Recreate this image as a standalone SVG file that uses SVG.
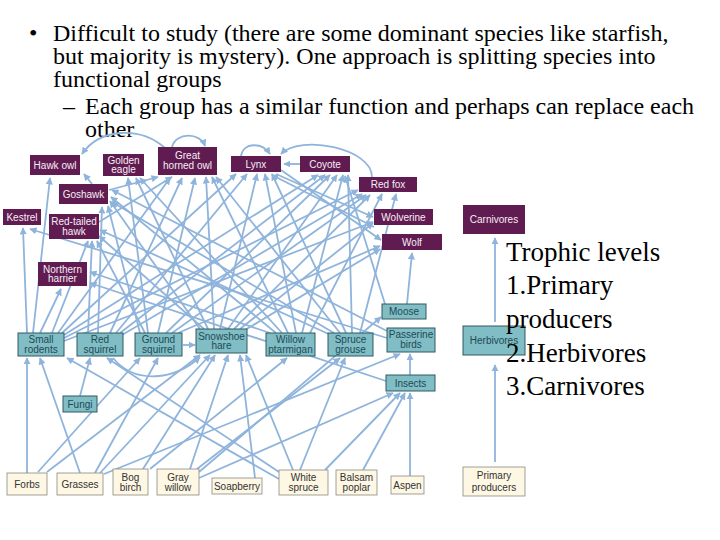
<svg xmlns="http://www.w3.org/2000/svg" width="720" height="540" viewBox="0 0 720 540">
<defs>
<marker id="a" viewBox="0 0 10 10" refX="9" refY="5" markerWidth="4" markerHeight="4" orient="auto"><path d="M0,0 L10,5 L0,10 z" fill="#8fb4dc"/></marker>
<style>
.e{stroke:#8fb4dc;stroke-width:1.8;fill:none;marker-end:url(#a)}
.c{fill:#601b51}
.ct{fill:#f6eef5;font-family:"Liberation Sans",Arial,sans-serif;font-size:10px;text-anchor:middle}
.h{fill:#80bdc4;stroke:#2f5a62;stroke-width:1}
.ht{fill:#1f4a56;font-family:"Liberation Sans",Arial,sans-serif;font-size:10px;text-anchor:middle}
.p{fill:#fdf7e4;stroke:#8a8a80;stroke-width:0.8}
.pt{fill:#333;font-family:"Liberation Sans",Arial,sans-serif;font-size:10px;text-anchor:middle}
.s{font-family:"Liberation Serif","Times New Roman",serif;fill:#000}
</style>
</defs>
<rect width="720" height="540" fill="#fff"/>

<g id="title" class="s" font-size="24">
<text x="29" y="41">•</text>
<text x="53" y="41">Difficult to study (there are some dominant species like starfish,</text>
<text x="53" y="64">but majority is mystery). One approach is splitting species into</text>
<text x="53" y="87">functional groups</text>
<text x="63" y="114">–</text>
<text x="85" y="114">Each group has a similar function and perhaps can replace each</text>
<text x="85" y="137">other</text>
</g>

<g id="connectors">
<!-- curves among carnivores -->
<path class="e" d="M165,148 C140,126 100,128 82,154"/>
<path class="e" d="M172,147 C176,132 200,132 205,146"/>
<path class="e" d="M241,156 C243,142 262,142 270,154"/>
<path class="e" d="M372,177 C372,148 300,134 281,154"/>
<line class="e" x1="300" y1="164" x2="284" y2="164"/>
<line class="e" x1="92" y1="184" x2="84" y2="174"/>
<line class="e" x1="109" y1="190" x2="158" y2="177"/>
<line class="e" x1="99" y1="222" x2="172" y2="177"/>
<line class="e" x1="276" y1="174" x2="373" y2="217"/>
<line class="e" x1="281" y1="170" x2="381" y2="240"/>
<line class="e" x1="374" y1="227" x2="272" y2="175"/>
<!-- small rodents -->
<line class="e" x1="27" y1="333" x2="23" y2="228"/>
<line class="e" x1="33" y1="333" x2="50" y2="178"/>
<line class="e" x1="40" y1="333" x2="61" y2="289"/>
<line class="e" x1="52" y1="333" x2="88" y2="241"/>
<line class="e" x1="58" y1="333" x2="170" y2="178"/>
<line class="e" x1="62" y1="333" x2="236" y2="174"/>
<line class="e" x1="64" y1="335" x2="318" y2="175"/>
<line class="e" x1="64" y1="338" x2="358" y2="190"/>
<line class="e" x1="64" y1="341" x2="373" y2="222"/>
<!-- red squirrel -->
<line class="e" x1="88" y1="333" x2="92" y2="241"/>
<line class="e" x1="98" y1="333" x2="102" y2="207"/>
<line class="e" x1="110" y1="333" x2="182" y2="178"/>
<line class="e" x1="116" y1="333" x2="247" y2="174"/>
<line class="e" x1="120" y1="333" x2="325" y2="175"/>
<line class="e" x1="122" y1="335" x2="362" y2="194"/>
<!-- ground squirrel -->
<line class="e" x1="140" y1="333" x2="108" y2="206"/>
<line class="e" x1="145" y1="333" x2="97" y2="241"/>
<line class="e" x1="148" y1="333" x2="128" y2="178"/>
<line class="e" x1="158" y1="333" x2="195" y2="178"/>
<line class="e" x1="166" y1="333" x2="330" y2="175"/>
<line class="e" x1="172" y1="333" x2="366" y2="195"/>
<line class="e" x1="178" y1="333" x2="380" y2="246"/>
<!-- snowshoe hare -->
<line class="e" x1="200" y1="329" x2="110" y2="201"/>
<line class="e" x1="204" y1="329" x2="99" y2="236"/>
<line class="e" x1="208" y1="329" x2="136" y2="178"/>
<line class="e" x1="214" y1="329" x2="206" y2="177"/>
<line class="e" x1="220" y1="329" x2="257" y2="174"/>
<line class="e" x1="228" y1="329" x2="337" y2="175"/>
<line class="e" x1="234" y1="329" x2="370" y2="195"/>
<line class="e" x1="240" y1="329" x2="373" y2="223"/>
<line class="e" x1="245" y1="330" x2="380" y2="249"/>
<!-- willow ptarmigan -->
<line class="e" x1="270" y1="333" x2="90" y2="272"/>
<line class="e" x1="276" y1="333" x2="111" y2="197"/>
<line class="e" x1="282" y1="333" x2="140" y2="178"/>
<line class="e" x1="288" y1="333" x2="212" y2="177"/>
<line class="e" x1="296" y1="333" x2="265" y2="174"/>
<line class="e" x1="302" y1="333" x2="343" y2="175"/>
<line class="e" x1="310" y1="333" x2="382" y2="194"/>
<!-- spruce grouse -->
<line class="e" x1="333" y1="336" x2="100" y2="230"/>
<line class="e" x1="334" y1="333" x2="112" y2="202"/>
<line class="e" x1="340" y1="333" x2="216" y2="177"/>
<line class="e" x1="346" y1="333" x2="272" y2="174"/>
<line class="e" x1="352" y1="333" x2="348" y2="175"/>
<line class="e" x1="360" y1="333" x2="396" y2="194"/>
<!-- passerine, moose, insects -->
<line class="e" x1="387" y1="338" x2="30" y2="229"/>
<line class="e" x1="387" y1="331" x2="112" y2="190"/>
<line class="e" x1="407" y1="304" x2="412" y2="253"/>
<line class="e" x1="385" y1="304" x2="345" y2="176"/>
<line class="e" x1="386" y1="381" x2="90" y2="283"/>
<line class="e" x1="410" y1="375" x2="410" y2="354"/>
<!-- producers to herbivores -->
<line class="e" x1="27" y1="473" x2="27" y2="358"/>
<line class="e" x1="38" y1="472" x2="140" y2="358"/>
<line class="e" x1="47" y1="472" x2="200" y2="355"/>
<line class="e" x1="80" y1="473" x2="40" y2="358"/>
<line class="e" x1="95" y1="473" x2="158" y2="358"/>
<line class="e" x1="100" y1="473" x2="210" y2="355"/>
<line class="e" x1="104" y1="474" x2="400" y2="354"/>
<line class="e" x1="143" y1="469" x2="215" y2="355"/>
<line class="e" x1="150" y1="469" x2="287" y2="358"/>
<line class="e" x1="190" y1="469" x2="228" y2="355"/>
<line class="e" x1="197" y1="469" x2="340" y2="358"/>
<line class="e" x1="199" y1="472" x2="381" y2="317"/>
<line class="e" x1="199" y1="478" x2="393" y2="393"/>
<line class="e" x1="255" y1="478" x2="240" y2="355"/>
<line class="e" x1="293" y1="470" x2="246" y2="355"/>
<line class="e" x1="300" y1="470" x2="345" y2="358"/>
<line class="e" x1="325" y1="470" x2="400" y2="393"/>
<line class="e" x1="279" y1="472" x2="107" y2="358"/>
<line class="e" x1="279" y1="479" x2="67" y2="358"/>
<line class="e" x1="363" y1="470" x2="405" y2="393"/>
<line class="e" x1="410" y1="476" x2="410" y2="393"/>
<line class="e" x1="80" y1="396" x2="90" y2="358"/>
<line class="e" x1="183" y1="345" x2="195" y2="345"/>
<path class="e" d="M113,358 C135,385 175,380 200,357"/>
<!-- legend -->
<line class="e" x1="495" y1="462" x2="495" y2="365"/>
<line class="e" x1="495" y1="322" x2="495" y2="238"/>
</g>

<g id="hawk-owl"><rect class="c" x="30" y="155" width="50" height="20"/><text class="ct" x="55" y="168.5">Hawk owl</text></g>
<g id="golden-eagle"><rect class="c" x="103" y="154" width="41" height="22"/><text class="ct" x="123.5" y="163.5">Golden</text><text class="ct" x="123.5" y="173">eagle</text></g>
<g id="great-horned-owl"><rect class="c" x="158" y="147" width="59" height="28"/><text class="ct" x="187.5" y="159">Great</text><text class="ct" x="187.5" y="169">horned owl</text></g>
<g id="lynx"><rect class="c" x="231" y="156" width="50" height="16"/><text class="ct" x="256" y="167.5">Lynx</text></g>
<g id="coyote"><rect class="c" x="300" y="156" width="50" height="16"/><text class="ct" x="325" y="167.5">Coyote</text></g>
<g id="red-fox"><rect class="c" x="359" y="177" width="58" height="15"/><text class="ct" x="388" y="188">Red fox</text></g>
<g id="wolverine"><rect class="c" x="374" y="209" width="59" height="16"/><text class="ct" x="403.5" y="220.5">Wolverine</text></g>
<g id="wolf"><rect class="c" x="382" y="234" width="60" height="16"/><text class="ct" x="412" y="245.5">Wolf</text></g>
<g id="goshawk"><rect class="c" x="59" y="184" width="49" height="20"/><text class="ct" x="83.5" y="197.5">Goshawk</text></g>
<g id="kestrel"><rect class="c" x="3" y="209" width="38" height="16"/><text class="ct" x="22" y="220.5">Kestrel</text></g>
<g id="red-tailed-hawk"><rect class="c" x="49" y="214" width="50" height="25"/><text class="ct" x="74" y="225">Red-tailed</text><text class="ct" x="74" y="234.5">hawk</text></g>
<g id="northern-harrier"><rect class="c" x="38" y="262" width="49" height="24"/><text class="ct" x="62.5" y="272.5">Northern</text><text class="ct" x="62.5" y="282">harrier</text></g>

<g id="small-rodents"><rect class="h" x="18" y="333" width="46" height="23"/><text class="ht" x="41" y="343">Small</text><text class="ht" x="41" y="352.5">rodents</text></g>
<g id="red-squirrel"><rect class="h" x="77" y="333" width="46" height="23"/><text class="ht" x="100" y="343">Red</text><text class="ht" x="100" y="352.5">squirrel</text></g>
<g id="ground-squirrel"><rect class="h" x="135" y="333" width="47" height="23"/><text class="ht" x="158.5" y="343">Ground</text><text class="ht" x="158.5" y="352.5">squirrel</text></g>
<g id="snowshoe-hare"><rect class="h" x="196" y="329" width="51" height="24"/><text class="ht" x="221.5" y="339.5">Snowshoe</text><text class="ht" x="221.5" y="349">hare</text></g>
<g id="willow-ptarmigan"><rect class="h" x="266" y="333" width="49" height="23"/><text class="ht" x="290.5" y="343">Willow</text><text class="ht" x="290.5" y="352.5">ptarmigan</text></g>
<g id="spruce-grouse"><rect class="h" x="328" y="333" width="45" height="23"/><text class="ht" x="350.5" y="343">Spruce</text><text class="ht" x="350.5" y="352.5">grouse</text></g>
<g id="passerine-birds"><rect class="h" x="387" y="328" width="48" height="24"/><text class="ht" x="411" y="338">Passerine</text><text class="ht" x="411" y="347.5">birds</text></g>
<g id="insects"><rect class="h" x="386" y="375" width="49" height="16"/><text class="ht" x="410.5" y="386.5">Insects</text></g>
<g id="fungi"><rect class="h" x="63" y="396" width="34" height="16"/><text class="ht" x="80" y="407.5">Fungi</text></g>
<g id="moose"><rect class="h" x="382" y="304" width="44" height="15"/><text class="ht" x="404" y="315">Moose</text></g>

<g id="forbs"><rect class="p" x="7" y="473" width="40" height="22"/><text class="pt" x="27" y="487.5">Forbs</text></g>
<g id="grasses"><rect class="p" x="57" y="473" width="46" height="22"/><text class="pt" x="80" y="487.5">Grasses</text></g>
<g id="bog-birch"><rect class="p" x="113" y="469" width="35" height="26"/><text class="pt" x="130.5" y="481">Bog</text><text class="pt" x="130.5" y="490.5">birch</text></g>
<g id="gray-willow"><rect class="p" x="157" y="469" width="42" height="26"/><text class="pt" x="178" y="481">Gray</text><text class="pt" x="178" y="490.5">willow</text></g>
<g id="soapberry"><rect class="p" x="212" y="478" width="50" height="16"/><text class="pt" x="237" y="489.5">Soapberry</text></g>
<g id="white-spruce"><rect class="p" x="279" y="470" width="49" height="25"/><text class="pt" x="303.5" y="481">White</text><text class="pt" x="303.5" y="490.5">spruce</text></g>
<g id="balsam-poplar"><rect class="p" x="336" y="470" width="41" height="25"/><text class="pt" x="356.5" y="481">Balsam</text><text class="pt" x="356.5" y="490.5">poplar</text></g>
<g id="aspen"><rect class="p" x="391" y="476" width="33" height="18"/><text class="pt" x="407.5" y="488.5">Aspen</text></g>

<g id="legend-carnivores"><rect class="c" x="463" y="205" width="62" height="29"/><text class="ct" x="494" y="223" font-size="9.5" fill="#dccbe0">Carnivores</text></g>
<g id="legend-herbivores"><rect class="h" x="463" y="326" width="62" height="29"/><text class="ht" x="494" y="344" font-size="9.5" fill="#3e6a73">Herbivores</text></g>
<g id="legend-producers"><rect class="p" x="463" y="467" width="62" height="29"/><text class="pt" x="494" y="479" font-size="9.5" fill="#555">Primary</text><text class="pt" x="494" y="491" font-size="9.5" fill="#555">producers</text></g>

<g id="trophic" class="s" font-size="27">
<text x="506" y="261">Trophic levels</text>
<text x="506" y="294">1.Primary</text>
<text x="506" y="328">producers</text>
<text x="506" y="362">2.Herbivores</text>
<text x="506" y="395">3.Carnivores</text>
</g>
</svg>
